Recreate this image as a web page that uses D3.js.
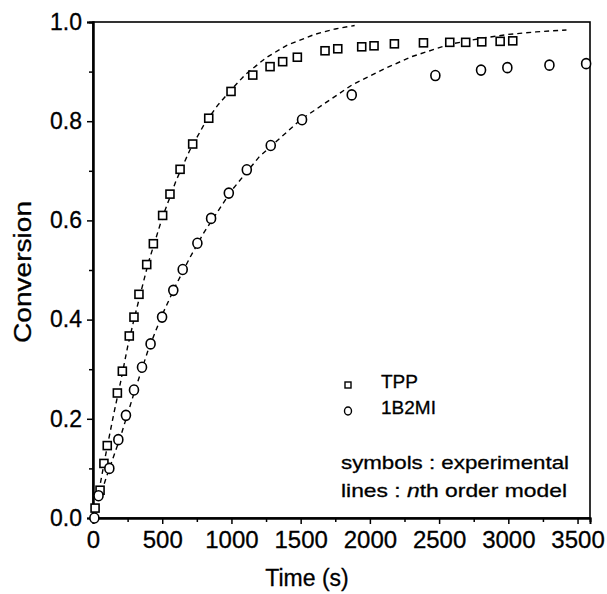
<!DOCTYPE html>
<html lang="en">
<head>
<meta charset="utf-8" />
<script src="https://cdn.jsdelivr.net/npm/d3@7"></script>
<style>
  body { margin: 0; background: #fff; }
  text { font-family: "Liberation Sans", Arial, sans-serif; fill: #000; stroke: #000; stroke-width: 0.3px; }
</style>
</head>
<body>
<div id="chart"></div>
<script>
// experimental points
var tppTime = [15, 51, 79, 103, 176, 212, 262, 296, 332, 388, 436, 503, 556, 629, 720, 836, 997, 1154, 1279, 1370, 1476, 1676, 1768, 1941, 2030, 2177, 2387, 2577, 2692, 2808, 2941, 3032];
var tppConv = [0.02, 0.056, 0.11, 0.146, 0.252, 0.296, 0.367, 0.405, 0.451, 0.511, 0.553, 0.610, 0.653, 0.703, 0.754, 0.806, 0.860, 0.893, 0.910, 0.920, 0.929, 0.942, 0.946, 0.950, 0.952, 0.956, 0.958, 0.959, 0.959, 0.960, 0.961, 0.962];

var bmiTime = [10, 40, 118, 183, 238, 296, 354, 416, 499, 580, 648, 754, 853, 981, 1111, 1284, 1510, 1869, 2473, 2803, 2993, 3297, 3562];
var bmiConv = [0.0, 0.045, 0.10, 0.158, 0.207, 0.258, 0.304, 0.351, 0.405, 0.459, 0.501, 0.554, 0.604, 0.655, 0.702, 0.751, 0.803, 0.853, 0.892, 0.903, 0.908, 0.913, 0.916];

// nth order model curves (dashed)
var tppModelTime = [0, 50, 100, 150, 200, 250, 300, 400, 500, 600, 700, 800, 900, 1000, 1100, 1250, 1400, 1600, 1750, 1890];
var tppModelConv = [0, 0.065, 0.14, 0.21, 0.275, 0.345, 0.405, 0.515, 0.605, 0.68, 0.742, 0.792, 0.832, 0.864, 0.894, 0.928, 0.953, 0.975, 0.986, 0.993];

var bmiModelTime = [0, 100, 200, 300, 400, 500, 600, 700, 800, 1000, 1200, 1500, 1870, 2100, 2300, 2577, 2800, 3000, 3200, 3420];
var bmiModelConv = [0, 0.085, 0.165, 0.255, 0.34, 0.41, 0.47, 0.525, 0.575, 0.66, 0.728, 0.803, 0.873, 0.905, 0.93, 0.955, 0.967, 0.975, 0.98, 0.984];

var xTicks = [0, 500, 1000, 1500, 2000, 2500, 3000, 3500];
var xMinor = [250, 750, 1250, 1750, 2250, 2750, 3250];
var yTicks = [0.0, 0.2, 0.4, 0.6, 0.8, 1.0];
var yMinor = [0.1, 0.3, 0.5, 0.7, 0.9];

var legendNames = ["TPP", "1B2MI"];

var W = 607, H = 594;
var mLeft = 93, mRight = 590, mTop = 22, mBottom = 518;

var svg = d3.select("#chart").append("svg")
  .attr("width", W).attr("height", H);

var x = d3.scaleLinear().domain([0, 3590]).range([mLeft, mRight]);
var y = d3.scaleLinear().domain([0, 1]).range([mBottom, mTop]);

// frame
svg.append("rect")
  .attr("x", mLeft).attr("y", mTop)
  .attr("width", mRight - mLeft).attr("height", mBottom - mTop)
  .attr("fill", "none").attr("stroke", "#000").attr("stroke-width", 1.6);

// axes
var xAxis = svg.append("g").attr("transform", "translate(0," + mBottom + ")")
  .call(d3.axisBottom(x).tickValues(xTicks).tickSize(6).tickFormat(d3.format("d")));
var xMin = svg.append("g").attr("transform", "translate(0," + mBottom + ")")
  .call(d3.axisBottom(x).tickValues(xMinor).tickSize(4).tickFormat(""));
var yAxis = svg.append("g").attr("transform", "translate(" + mLeft + ",0)")
  .call(d3.axisLeft(y).tickValues(yTicks).tickSize(6).tickFormat(d3.format(".1f")));
var yMin = svg.append("g").attr("transform", "translate(" + mLeft + ",0)")
  .call(d3.axisLeft(y).tickValues(yMinor).tickSize(4).tickFormat(""));

[xAxis, xMin, yAxis, yMin].forEach(function(g) {
  g.select(".domain").attr("stroke-width", 2);
  g.selectAll(".tick line").attr("stroke-width", 1.5);
});
xAxis.selectAll(".tick text")
  .attr("font-size", 24).attr("y", 13).attr("dy", "0.72em")
  .attr("font-family", '"Liberation Sans", Arial, sans-serif');
yAxis.selectAll(".tick text")
  .attr("font-size", 23).attr("x", -11)
  .attr("font-family", '"Liberation Sans", Arial, sans-serif');

// axis titles
svg.append("text")
  .attr("x", 307).attr("y", 586)
  .attr("text-anchor", "middle").attr("font-size", 23)
  .text("Time (s)");
svg.append("text")
  .attr("transform", "translate(31,272) rotate(-90)")
  .attr("text-anchor", "middle").attr("font-size", 23)
  .attr("textLength", 142).attr("lengthAdjust", "spacingAndGlyphs")
  .text("Conversion");

// model lines
var line = d3.line().x(function(d) { return x(d[0]); }).y(function(d) { return y(d[1]); });
[[tppModelTime, tppModelConv], [bmiModelTime, bmiModelConv]].forEach(function(s) {
  svg.append("path")
    .datum(d3.zip(s[0], s[1]))
    .attr("d", line)
    .attr("fill", "none").attr("stroke", "#000")
    .attr("stroke-width", 1.4).attr("stroke-dasharray", "5,4");
});

// symbols
var sq = 8;
svg.append("g").selectAll("rect")
  .data(d3.zip(tppTime, tppConv)).join("rect")
  .attr("x", function(d) { return x(d[0]) - sq / 2; })
  .attr("y", function(d) { return y(d[1]) - sq / 2; })
  .attr("width", sq).attr("height", sq)
  .attr("fill", "#fff").attr("stroke", "#000").attr("stroke-width", 1.6);

svg.append("g").selectAll("ellipse")
  .data(d3.zip(bmiTime, bmiConv)).join("ellipse")
  .attr("cx", function(d) { return x(d[0]); })
  .attr("cy", function(d) { return y(d[1]); })
  .attr("rx", 4.5).attr("ry", 5)
  .attr("fill", "#fff").attr("stroke", "#000").attr("stroke-width", 1.6);

// legend
var lg = svg.append("g");
lg.append("rect").attr("x", 345).attr("y", 382).attr("width", 6).attr("height", 6)
  .attr("fill", "none").attr("stroke", "#000").attr("stroke-width", 1.4);
lg.append("ellipse").attr("cx", 348).attr("cy", 411).attr("rx", 3.5).attr("ry", 4)
  .attr("fill", "none").attr("stroke", "#000").attr("stroke-width", 1.4);
lg.selectAll("text.name").data(legendNames).join("text")
  .attr("class", "name")
  .attr("x", 381).attr("y", function(d, i) { return 388 + i * 26; })
  .attr("font-size", 19).text(function(d) { return d; });

lg.append("text").attr("x", 341).attr("y", 469).attr("font-size", 19)
  .attr("textLength", 228).attr("lengthAdjust", "spacingAndGlyphs")
  .text("symbols : experimental");
var t2 = lg.append("text").attr("x", 341).attr("y", 497).attr("font-size", 19)
  .attr("textLength", 226).attr("lengthAdjust", "spacingAndGlyphs");
t2.append("tspan").text("lines : ");
t2.append("tspan").attr("font-style", "italic").text("n");
t2.append("tspan").text("th order model");
</script>
</body>
</html>
